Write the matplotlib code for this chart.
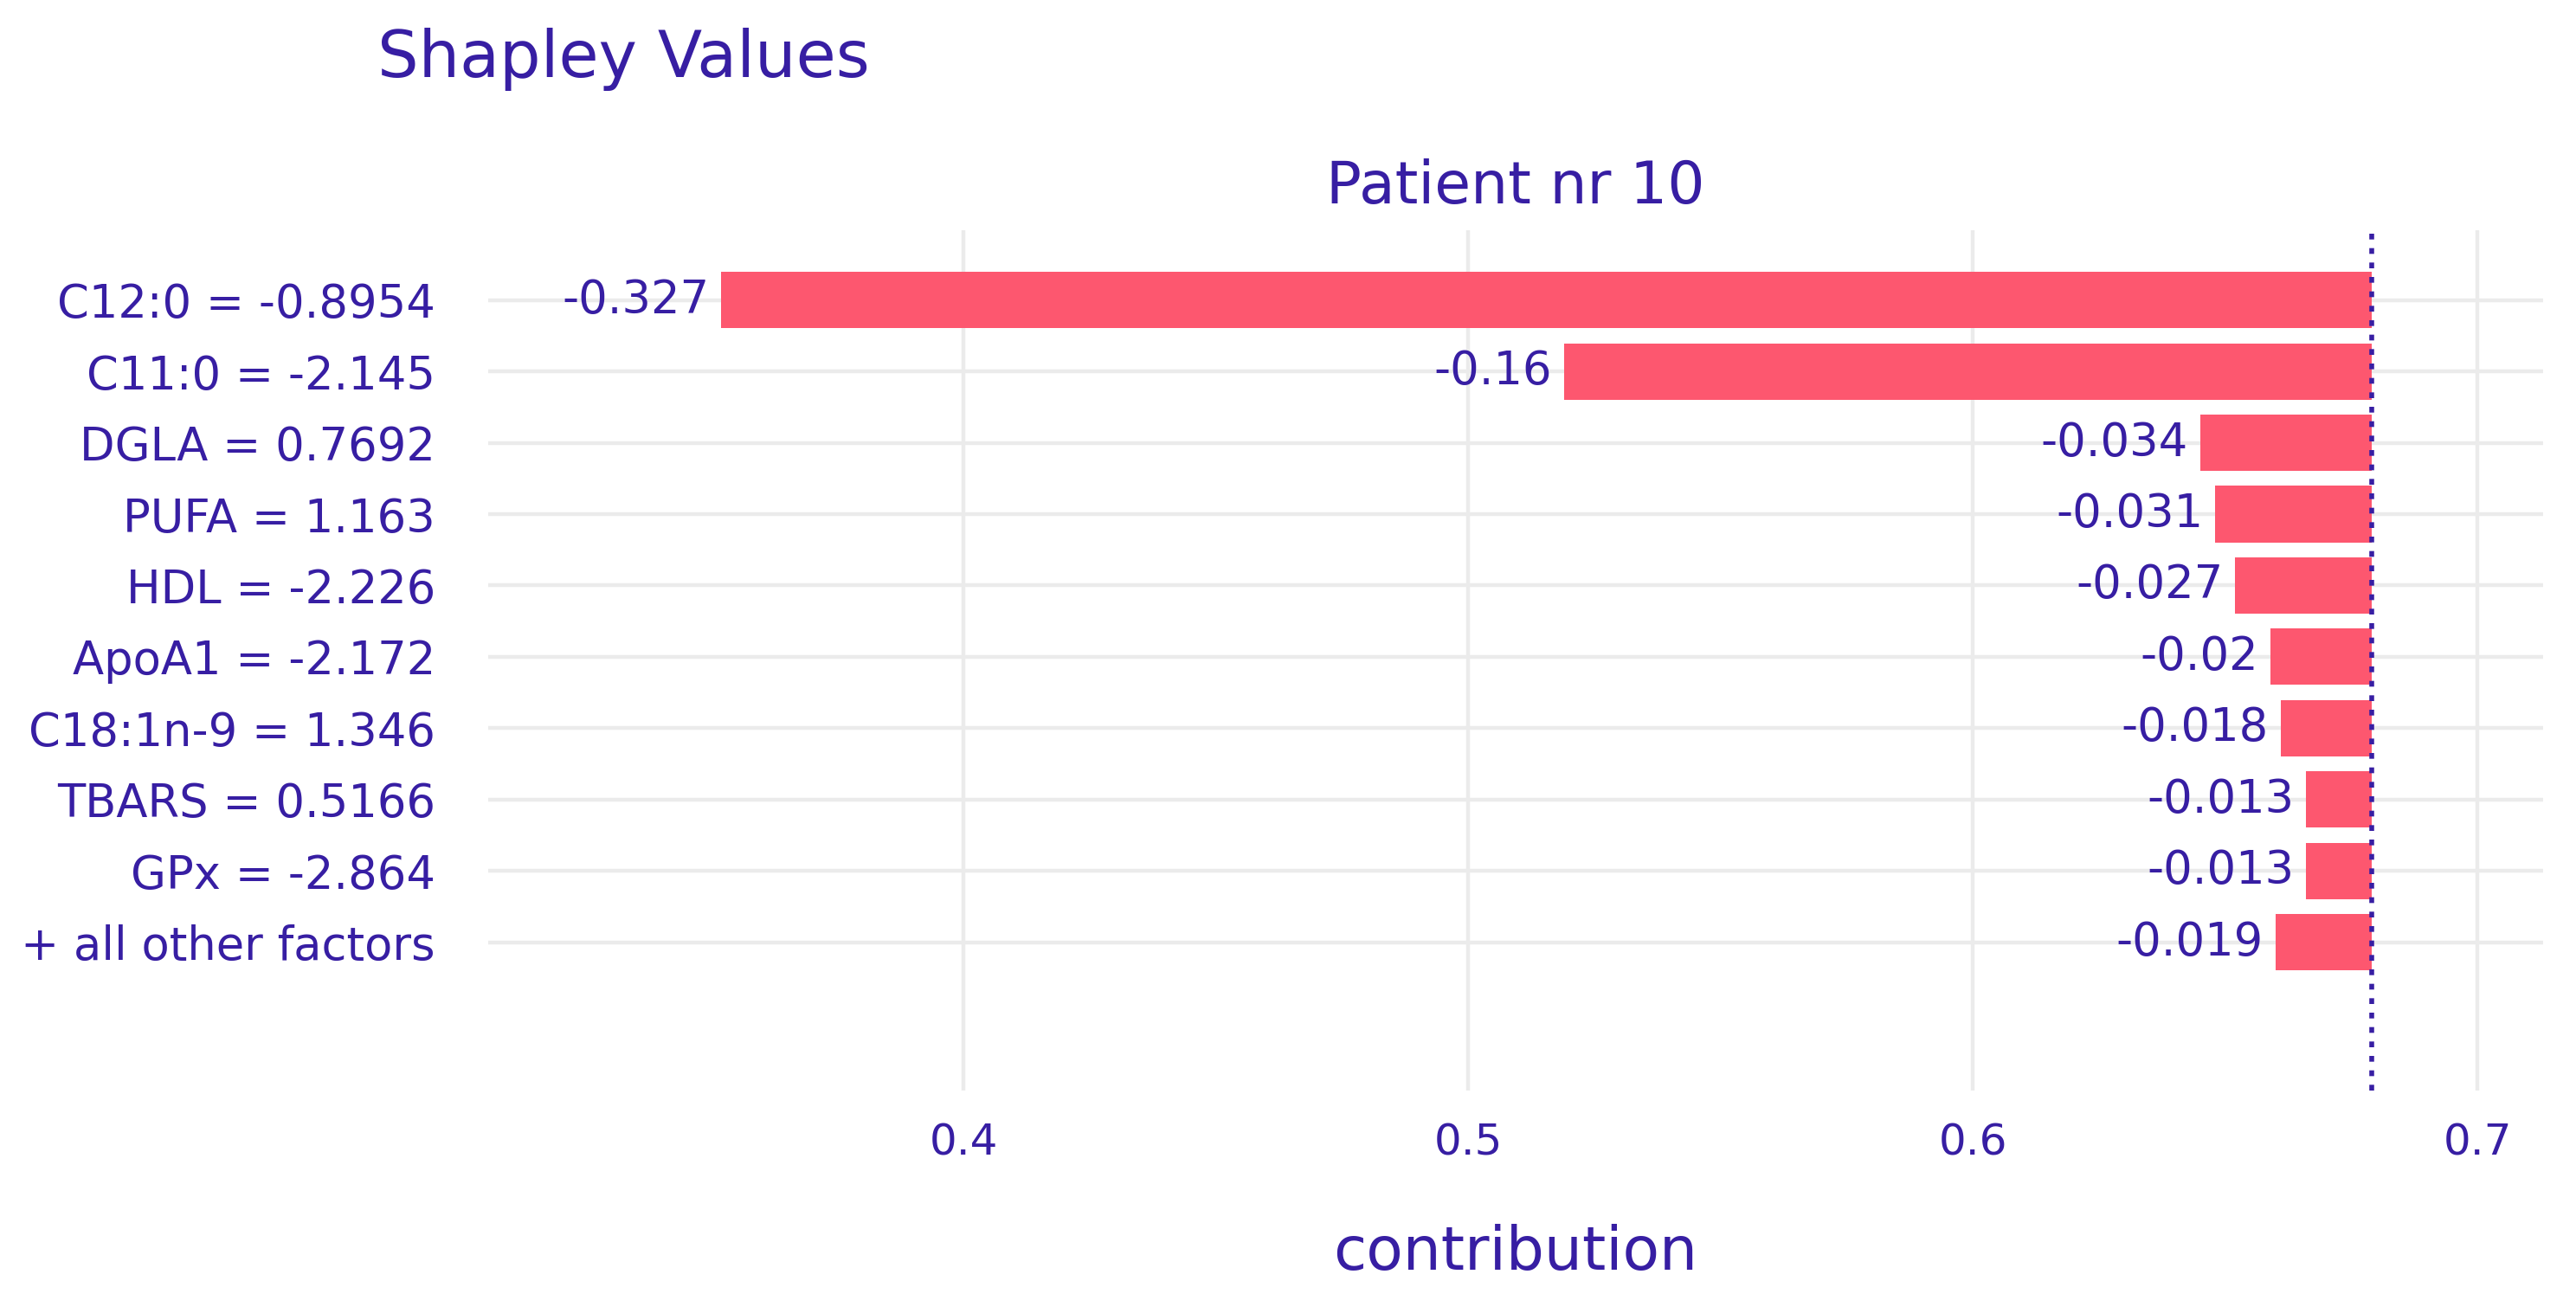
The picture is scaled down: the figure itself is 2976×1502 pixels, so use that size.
import matplotlib
matplotlib.use("Agg")
import matplotlib.pyplot as plt

# ---- data ----
features = ["C12:0 = -0.8954", "C11:0 = -2.145", "DGLA = 0.7692", "PUFA = 1.163",
            "HDL = -2.226", "ApoA1 = -2.172", "C18:1n-9 = 1.346", "TBARS = 0.5166",
            "GPx = -2.864", "+ all other factors"]
contributions = [-0.327, -0.16, -0.034, -0.031, -0.027, -0.02, -0.018, -0.013, -0.013, -0.019]
prediction = 0.679
xticks = [0.4, 0.5, 0.6, 0.7]
xticklabels = ["0.4", "0.5", "0.6", "0.7"]

TEXT = "#371ea3"
BAR = "#fd576f"
GRID = "#ebebeb"

plt.rcParams['font.family'] = ['DejaVu Sans']

W, H, DPI = 2976, 1502, 200
fig = plt.figure(figsize=(W / DPI, H / DPI), dpi=DPI)
ax = fig.add_axes([564 / W, 1 - 1260 / H, (2938 - 564) / W, (1260 - 266) / H])

ypos = list(range(len(features)))
for y in ypos:
    ax.axhline(y, color=GRID, lw=1.6, zorder=0)
for xt in xticks:
    ax.axvline(xt, color=GRID, lw=1.6, zorder=0)

ax.barh(ypos, contributions, left=prediction, height=0.79, color=BAR, zorder=2)
for y, c in zip(ypos, contributions):
    ax.annotate(f"{c:g}", xy=(prediction + c, y), xytext=(-5, 0), textcoords="offset points",
                ha="right", va="center", color=TEXT, fontsize=19, zorder=3)

ax.axvline(prediction, color=TEXT, lw=2.0, linestyle=(0, (1.2, 1.8)), zorder=4)

ax.set_xlim(0.3058, 0.713)
ax.set_ylim(11.08, -0.98)
ax.set_yticks(ypos)
ax.set_yticklabels(features, fontsize=19, color=TEXT)
ax.set_xticks(xticks)
ax.set_xticklabels(xticklabels, fontsize=18, color=TEXT)
ax.tick_params(axis="y", length=0, pad=22)
ax.tick_params(axis="x", length=0, pad=13)
for s in ax.spines.values():
    s.set_visible(False)

fig.text(436 / W, 1 - 89 / H, "Shapley Values", ha="left", va="baseline",
         fontsize=27, color=TEXT)
fig.text(1751 / W, 1 - 235 / H, "Patient nr 10", ha="center", va="baseline",
         fontsize=24.5, color=TEXT)
fig.text(1751 / W, 1 - 1467 / H, "contribution", ha="center", va="baseline",
         fontsize=25, color=TEXT)

fig.savefig("out.png", dpi=DPI, facecolor="white")
